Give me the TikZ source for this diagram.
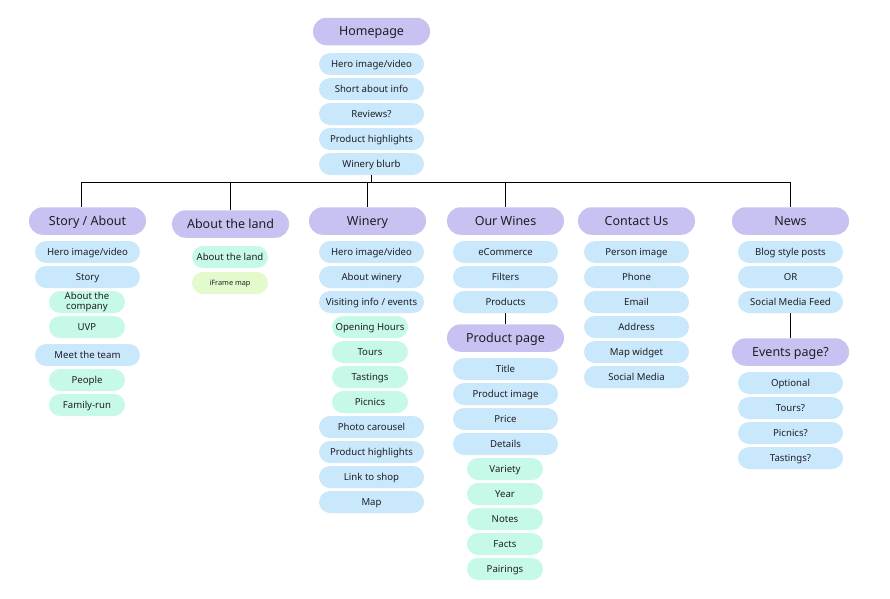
\documentclass[tikz,border=0pt]{standalone}
\usepackage{fontspec}
\setmainfont{Noto Sans}
\definecolor{headc}{RGB}{200,194,242}
\definecolor{itemc}{RGB}{202,232,252}
\definecolor{subc}{RGB}{198,249,232}
\definecolor{mapc}{RGB}{228,250,204}
\definecolor{txtc}{RGB}{30,30,36}
\tikzset{
  head/.style={fill=headc, rounded corners=13.5pt, minimum width=117pt, minimum height=27.5pt, inner sep=0pt, text=txtc, text height=9pt, text depth=0.3pt, font=\fontsize{12.5}{14}\selectfont},
  item/.style={fill=itemc, rounded corners=11pt, minimum width=105pt, minimum height=22pt, inner sep=0pt, text=txtc, text height=7pt, text depth=0.3pt, font=\fontsize{9.6}{10}\selectfont},
  sub/.style={item, fill=subc, minimum width=76pt},
  tiny/.style={sub, fill=mapc, text height=5.5pt, font=\fontsize{7.3}{8}\selectfont},
  link/.style={draw=black, line width=0.8pt}
}
\begin{document}
\begin{tikzpicture}[x=1pt, y=-1pt]
  \useasboundingbox (0,0) rectangle (890,598);
  % Homepage
  \node[head] (home) at (371.5,31.5) {Homepage};
  \node[item] (hhero) at (371.5,64) {Hero image/video};
  \node[item] (hshort) at (371.5,89) {Short about info};
  \node[item] (hrev) at (371.5,114) {Reviews?};
  \node[item] (hprod) at (371.5,139) {Product highlights};
  \node[item] (blurb) at (371.5,164) {Winery blurb};
  % Hauptseiten
  \node[head] (story) at (87.5,221) {Story / About};
  \node[head] (land) at (230.5,224) {About the land};
  \node[head] (winery) at (367.5,221) {Winery};
  \node[head] (wines) at (505.5,221) {Our Wines};
  \node[head] (contact) at (636.5,221) {Contact Us};
  \node[head] (news) at (790.5,221) {News};
  % Verbindungen
  \coordinate (busL) at (81,182);
  \coordinate (busR) at (790.5,182);
  \draw[link] (busL) -- (busR);
  \draw[link] (blurb.south) -- (blurb.south |- busL);
  \draw[link] (busL) -- (busL |- story.north);
  \draw[link] (land.north |- busL) -- (land.north);
  \draw[link] (winery.north |- busL) -- (winery.north);
  \draw[link] (wines.north |- busL) -- (wines.north);
  \draw[link] (busR) -- (news.north);
  % Story / About
  \node[item] (shero) at (87.5,252) {Hero image/video};
  \node[item] (sstory) at (87.5,277) {Story};
  \node[sub, align=center, text height=, text depth=, font=\fontsize{9.6}{10.5}\selectfont] (scomp) at (87,302) {About the\\company};
  \node[sub] (suvp) at (87,327) {UVP};
  \node[item] (steam) at (87.5,355) {Meet the team};
  \node[sub] (speople) at (87,380) {People};
  \node[sub] (sfam) at (87,405) {Family-run};
  % About the land
  \node[sub] (lland) at (230,257) {About the land};
  \node[tiny] (lmap) at (230,283) {iFrame map};
  % Winery
  \node[item] (whero) at (371.5,252) {Hero image/video};
  \node[item] (wabout) at (371.5,277) {About winery};
  \node[item] (wvisit) at (371.5,302) {Visiting info / events};
  \node[sub] (wopen) at (370,327) {Opening Hours};
  \node[sub] (wtours) at (370,352) {Tours};
  \node[sub] (wtast) at (370,377) {Tastings};
  \node[sub] (wpic) at (370,402) {Picnics};
  \node[item] (wphoto) at (371.5,427) {Photo carousel};
  \node[item] (wprod) at (371.5,452) {Product highlights};
  \node[item] (wshop) at (371.5,477) {Link to shop};
  \node[item] (wmap) at (371.5,502) {Map};
  % Our Wines
  \node[item] (oecom) at (505.5,252) {eCommerce};
  \node[item] (ofilt) at (505.5,277) {Filters};
  \node[item] (oprod) at (505.5,302) {Products};
  \node[head] (ppage) at (505.5,338) {Product page};
  \draw[link] (oprod) -- (ppage);
  \node[item] (ptitle) at (505.5,369) {Title};
  \node[item] (pimg) at (505.5,394) {Product image};
  \node[item] (pprice) at (505.5,419) {Price};
  \node[item] (pdet) at (505.5,444) {Details};
  \node[sub] (pvar) at (505,469) {Variety};
  \node[sub] (pyear) at (505,494) {Year};
  \node[sub] (pnotes) at (505,519) {Notes};
  \node[sub] (pfacts) at (505,544) {Facts};
  \node[sub] (ppair) at (505,569) {Pairings};
  % Contact Us
  \node[item] (cperson) at (636.5,252) {Person image};
  \node[item] (cphone) at (636.5,277) {Phone};
  \node[item] (cmail) at (636.5,302) {Email};
  \node[item] (caddr) at (636.5,327) {Address};
  \node[item] (cmap) at (636.5,352) {Map widget};
  \node[item] (csocial) at (636.5,377) {Social Media};
  % News
  \node[item] (nblog) at (790.5,252) {Blog style posts};
  \node[item] (nor) at (790.5,277) {OR};
  \node[item] (nfeed) at (790.5,302) {Social Media Feed};
  \node[head] (events) at (790.5,352) {Events page?};
  \draw[link] (nfeed) -- (events);
  \node[item] (eopt) at (790.5,383) {Optional};
  \node[item] (etours) at (790.5,408) {Tours?};
  \node[item] (epic) at (790.5,433) {Picnics?};
  \node[item] (etast) at (790.5,458) {Tastings?};
\end{tikzpicture}
\end{document}
